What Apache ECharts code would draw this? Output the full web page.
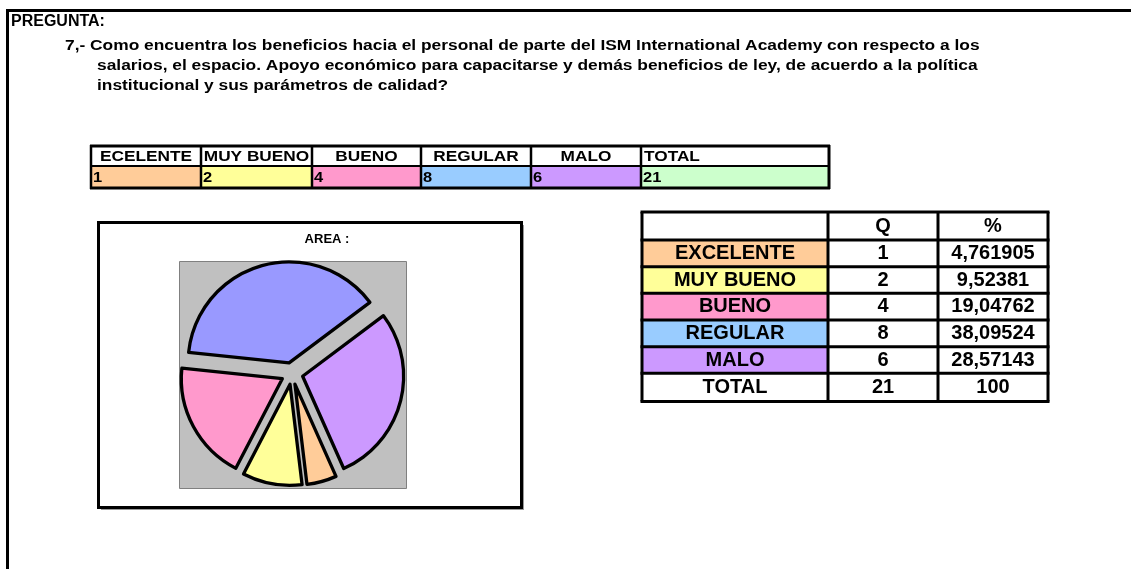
<!DOCTYPE html>
<html>
<head>
<meta charset="utf-8">
<script src="https://cdn.jsdelivr.net/npm/echarts@6/dist/echarts.min.js"></script>
<style>
  html, body { margin: 0; padding: 0; background: #fff; }
  #main { width: 1131px; height: 569px; }
</style>
</head>
<body>
<div id="main"></div>
<script>
// datos de la pregunta 7
var headSmall = ['ECELENTE', 'MUY BUENO', 'BUENO', 'REGULAR', 'MALO', 'TOTAL'];
var categories = ['EXCELENTE', 'MUY BUENO', 'BUENO', 'REGULAR', 'MALO'];
var counts = [1, 2, 4, 8, 6];
var total = 21;
var pctLabels = ['4,761905', '9,52381', '19,04762', '38,09524', '28,57143'];
var pctTotal = '100';

var cellColors = ['#FFCC99', '#FFFF99', '#FF99CC', '#99CCFF', '#CC99FF'];
var pieColors = ['#FFCC99', '#FFFF99', '#FF99CC', '#9999FF', '#CC99FF'];

var FONT = '"Liberation Sans", Arial, sans-serif';
var chart = echarts.init(document.getElementById('main'));
var g = [];

function line(x1, y1, x2, y2, w, c) {
    g.push({type: 'line', silent: true, z: 5,
        shape: {x1: x1, y1: y1, x2: x2, y2: y2},
        style: {stroke: c || '#000', lineWidth: w}});
}
function rect(x, y, w, h, fill, stroke, lw, z) {
    g.push({type: 'rect', silent: true, z: z || 1,
        shape: {x: x, y: y, width: w, height: h},
        style: {fill: fill, stroke: stroke || null, lineWidth: lw || 0}});
}
function text(x, y, s, size, align, sx) {
    g.push({type: 'text', silent: true, z: 6, x: x, y: y, scaleX: sx || 1,
        style: {text: s, fill: '#000', font: 'bold ' + size + 'px ' + FONT,
            align: align || 'left', verticalAlign: 'middle',
            textAlign: align || 'left', textVerticalAlign: 'middle'}});
}

// marco exterior
line(6, 10.5, 1131, 10.5, 3);
line(7.5, 9, 7.5, 569, 3);

// encabezado
text(11, 21.5, 'PREGUNTA:', 16);
text(65, 46, '7,- Como encuentra los beneficios hacia el personal de parte del ISM International Academy con respecto a los', 14, 'left', 1.24);
text(97, 66, 'salarios, el espacio. Apoyo económico para capacitarse y demás beneficios de ley, de acuerdo a la política', 14, 'left', 1.24);
text(97, 86, 'institucional y sus parámetros de calidad?', 14, 'left', 1.24);

// tabla pequeña
var sx = [91, 201, 312, 421, 531, 641, 829];
var smallVals = counts.concat([total]);
var smallFill = cellColors.concat(['#CCFFCC']);
for (var i = 0; i < headSmall.length; i++) {
    var x0 = sx[i], x1 = sx[i + 1];
    rect(x0, 166, x1 - x0, 22, smallFill[i]);
    if (i < 5) text((x0 + x1) / 2, 156.5, headSmall[i], 15, 'center', 1.15);
    else text(x0 + 3, 156.5, headSmall[i], 15, 'left', 1.15);
    text(x0 + 2, 177.5, String(smallVals[i]), 15, 'left', 1.1);
    line(x0, 145, x0, 189, 2.5);
}
line(sx[6], 145, sx[6], 189, 3);
line(sx[0] - 1, 146, sx[6] + 1, 146, 3);
line(sx[0] - 1, 166, sx[6] + 1, 166, 2);
line(sx[0] - 1, 188, sx[6] + 1, 188, 3);

// recuadro del grafico
line(101, 509.5, 523, 509.5, 1, '#999');
line(523.5, 225, 523.5, 510, 1, '#999');
rect(98.5, 222.5, 423, 285, '#fff', '#000', 3, 1);
text(327, 239, 'AREA :', 13, 'center');
rect(179.5, 261.5, 227, 227, '#C0C0C0', '#808080', 1, 1);

// tabla grande
var bx = [642, 828, 938, 1048];
var by = [212, 240, 266.7, 293.3, 320, 346.7, 373.3, 401.5];
for (var r = 0; r < 5; r++) {
    rect(bx[0], by[r + 1], bx[1] - bx[0], by[r + 2] - by[r + 1], cellColors[r]);
}
text((bx[1] + bx[2]) / 2, (by[0] + by[1]) / 2, 'Q', 20, 'center');
text((bx[2] + bx[3]) / 2, (by[0] + by[1]) / 2, '%', 20, 'center');
for (var r = 0; r < 6; r++) {
    var cy = (by[r + 1] + by[r + 2]) / 2;
    text((bx[0] + bx[1]) / 2, cy, r < 5 ? categories[r] : 'TOTAL', 20, 'center');
    text((bx[1] + bx[2]) / 2, cy, String(r < 5 ? counts[r] : total), 20, 'center');
    text((bx[2] + bx[3]) / 2, cy, r < 5 ? pctLabels[r] : pctTotal, 20, 'center');
}
for (var i = 0; i < by.length; i++) line(bx[0] - 1.5, by[i], bx[3] + 1.5, by[i], 3);
for (var i = 0; i < bx.length; i++) line(bx[i], by[0], bx[i], by[7], 3);

var pieData = categories.map(function (c, i) {
    return {name: c, value: counts[i], selected: true, itemStyle: {color: pieColors[i]}};
});

chart.setOption({
    animation: false,
    graphic: {elements: g},
    series: [{
        type: 'pie',
        z: 3,
        center: [292, 373.5],
        radius: 101,
        startAngle: -66,
        clockwise: true,
        selectedMode: 'multiple',
        selectedOffset: 11,
        label: {show: false},
        labelLine: {show: false},
        emphasis: {disabled: true},
        itemStyle: {borderColor: '#000', borderWidth: 3.3},
        data: pieData
    }]
});
</script>
</body>
</html>
